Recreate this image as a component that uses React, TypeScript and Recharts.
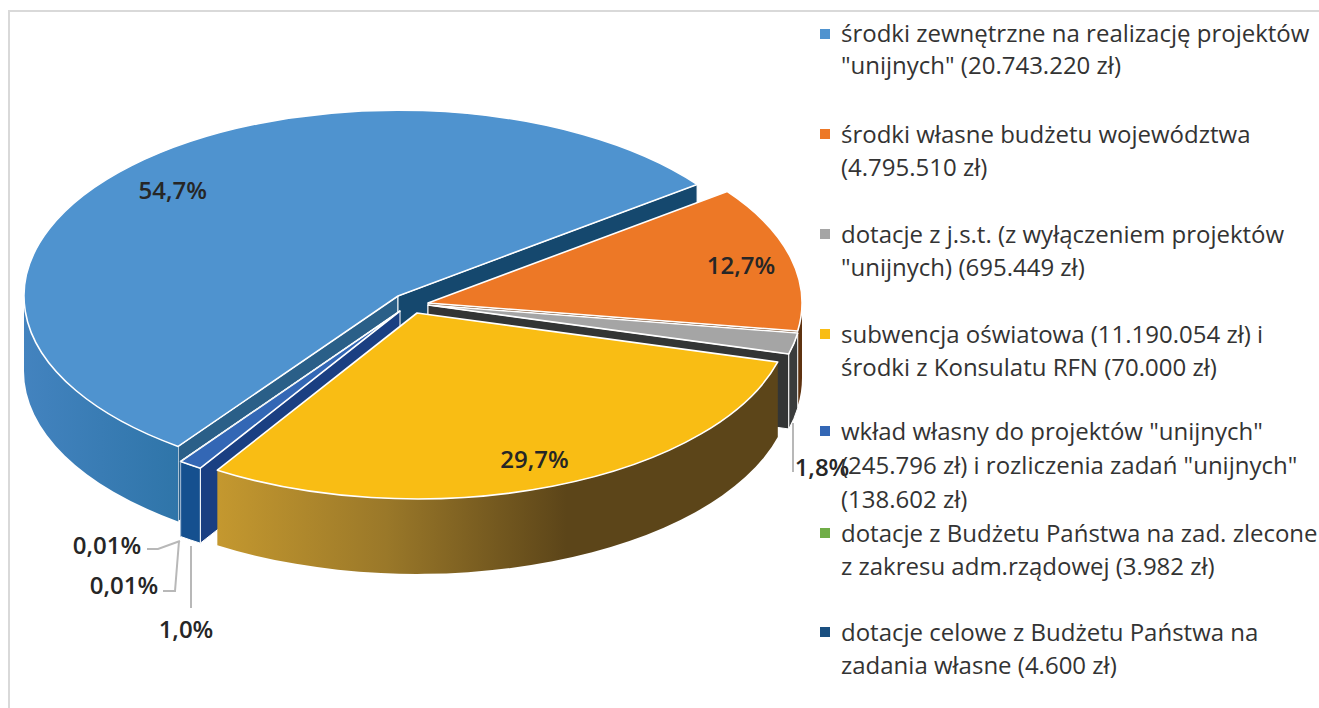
import React from "react";
import { PieChart, Pie, Legend } from "recharts";

// amounts taken from the legend texts, in zł
const names = [
  "środki zewnętrzne na realizację projektów\n\"unijnych\" (20.743.220 zł)",
  "środki własne budżetu województwa\n(4.795.510 zł)",
  "dotacje z j.s.t. (z wyłączeniem projektów\n\"unijnych) (695.449 zł)",
  "subwencja oświatowa (11.190.054 zł) i\nśrodki z Konsulatu RFN (70.000 zł)",
  "wkład własny do projektów \"unijnych\"\n(245.796 zł) i rozliczenia zadań \"unijnych\"\n(138.602 zł)",
  "dotacje z Budżetu Państwa na zad. zlecone\nz zakresu adm.rządowej (3.982 zł)",
  "dotacje celowe z Budżetu Państwa na\nzadania własne (4.600 zł)",
];
const values = [20743220, 4795510, 695449, 11260054, 384398, 3982, 4600];
const percentLabels = ["54,7%", "12,7%", "1,8%", "29,7%", "1,0%", "0,01%", "0,01%"];
const colors = ["#4f93cf", "#ed7826", "#a5a5a5", "#f9bd14", "#3367b5", "#70ad47", "#1a4f80"];

const data = names.map((name, i) => ({ name, value: values[i] }));

// look of the fake 3D pie
const CX = 398;
const CY = 296;
const RADIUS = 374;
const TILT = 0.497;
const DEPTH = 75;
const FONT = "'Open Sans', sans-serif";

const explode = [
  [0, 0],
  [30, 7],
  [30, 9],
  [19, 17],
  [2, 15],
  [2, 15],
  [2, 15],
];
const startWall = ["#2a5f88", "#6b3a12", "#333535", "#5c4519", "#1a3f82"];
const endWall = ["#15486e", "#6b3a12", "#333535", "#5c4519", "#1a3f82"];
const outerWall = ["url(#blueWall)", "#5e3210", "#3a3c3c", "url(#yellowWall)", "#15508f", "#15508f", "#15508f"];
const legendTops = [17, 117, 217, 317, 414, 516, 615];
const legendLineHeight = [32, 33, 33, 33, 34, 33, 33];
const labelNudge = [
  [4, 6],
  [1, 0],
  [0, 0],
  [1, -4],
];

// outside labels: text centre and leader line, chart coordinates
const outsideLabels: Record<number, { x: number; y: number; line: string }> = {
  2: { x: 822, y: 466, line: "793,423 793,472" },
  4: { x: 186, y: 628, line: "191,546 191,608" },
  5: { x: 107, y: 544, line: "147,549 158,549 180,541" },
  6: { x: 124, y: 584, line: "163,591 175,591 179,541" },
};

const rad = (a: number) => (a * Math.PI) / 180;
const point = (cx: number, cy: number, a: number, f = 1) => [
  cx + RADIUS * f * Math.cos(rad(a)),
  cy - RADIUS * TILT * f * Math.sin(rad(a)),
];

const Slice3D = (props: any, visible: (i: number) => boolean) => {
  const i = names.indexOf(props.name ?? props.payload?.name);
  if (!visible(i)) return null;
  const { cx, cy, startAngle, endAngle } = props;
  const x0 = cx + explode[i][0];
  const y0 = cy + explode[i][1];
  const rx = RADIUS;
  const ry = RADIUS * TILT;
  const mid = (startAngle + endAngle) / 2;
  const [sx, sy] = point(x0, y0, startAngle);
  const [ex, ey] = point(x0, y0, endAngle);
  const large = Math.abs(startAngle - endAngle) > 180 ? 1 : 0;

  // a radial wall only shows when the top face lies above its edge,
  // the two hairline slices have no wall worth drawing
  const faces = (a: number) => i < 5 && Math.sin(rad(mid - a)) / Math.cos(rad(a)) > 0;
  const wall = (x: number, y: number) =>
    `M${x0},${y0} L${x},${y} L${x},${y + DEPTH} L${x0},${y0 + DEPTH} Z`;

  const fronts: string[] = [];
  [
    [-180, 0],
    [180, 360],
  ].forEach(([lo, hi]) => {
    const a = Math.min(startAngle, hi);
    const b = Math.max(endAngle, lo);
    if (a <= b) return;
    const [ax, ay] = point(x0, y0, a);
    const [bx, by] = point(x0, y0, b);
    fronts.push(
      `M${ax},${ay} A${rx},${ry} 0 0 1 ${bx},${by} L${bx},${by + DEPTH} A${rx},${ry} 0 0 0 ${ax},${ay + DEPTH} Z`
    );
  });

  const lined = i === 2 || i === 4;
  return (
    <g>
      {faces(startAngle) && (
        <path d={wall(sx, sy)} fill={startWall[i]} stroke="#fff" strokeWidth={1} />
      )}
      {faces(endAngle) && (
        <path d={wall(ex, ey)} fill={endWall[i]} stroke="#fff" strokeWidth={1} />
      )}
      {fronts.map((d) => (
        <path
          key={d}
          d={d}
          fill={outerWall[i]}
          stroke={lined ? "#fff" : "none"}
          strokeWidth={1}
        />
      ))}
      <path
        d={`M${x0},${y0} L${sx},${sy} A${rx},${ry} 0 ${large} 1 ${ex},${ey} Z`}
        fill={colors[i]}
        stroke="#fff"
        strokeWidth={i > 4 ? 0.6 : 1.6}
        strokeLinejoin="round"
      />
    </g>
  );
};

// yellow has to lie over the walls of the small slices, so it gets its own layer
const backShape = (props: any) => Slice3D(props, (i) => i !== 3);
const frontShape = (props: any) => Slice3D(props, (i) => i === 3);

const renderLabel = (props: any) => {
  const i = names.indexOf(props.name ?? props.payload?.name);
  const textStyle = { fontFamily: FONT, fontSize: 24, fontWeight: 600, fill: "#262626" };
  const outside = outsideLabels[i];
  if (outside) {
    return (
      <g key={i}>
        <polyline points={outside.line} fill="none" stroke="#b8b8b8" strokeWidth={2} />
        <text x={outside.x} y={outside.y} textAnchor="middle" dominantBaseline="central" style={textStyle}>
          {percentLabels[i]}
        </text>
      </g>
    );
  }
  const [x, y] = point(props.cx + explode[i][0], props.cy + explode[i][1], props.midAngle, 0.86);
  return (
    <text
      key={i}
      x={x + labelNudge[i][0]}
      y={y + labelNudge[i][1]}
      textAnchor="middle"
      dominantBaseline="central"
      style={textStyle}
    >
      {percentLabels[i]}
    </text>
  );
};

const renderLegend = ({ payload }: any) => {
  const shown = names.filter((n) => (payload || []).some((entry: any) => entry.value === n));
  return (
    <div style={{ position: "relative", width: 1319, height: 708 }}>
      {shown.map((name) => {
        const i = names.indexOf(name);
        return (
          <div key={name}>
            <div
              style={{
                position: "absolute",
                left: 820,
                top: legendTops[i] + 12,
                width: 10,
                height: 10,
                background: colors[i],
              }}
            />
            <div
              style={{
                position: "absolute",
                left: 841,
                top: legendTops[i],
                whiteSpace: "pre",
                fontFamily: FONT,
                fontSize: 24,
                lineHeight: `${legendLineHeight[i]}px`,
                color: "#333",
              }}
            >
              {name}
            </div>
          </div>
        );
      })}
    </div>
  );
};

export default function App() {
  const pieProps = {
    data,
    dataKey: "value",
    nameKey: "name",
    cx: CX,
    cy: CY,
    outerRadius: RADIUS,
    startAngle: 234,
    endAngle: -126,
    isAnimationActive: false,
  };
  return (
    <div style={{ position: "absolute", left: 0, top: 0, width: 1319, height: 708, background: "#fff" }}>
      <div
        style={{
          position: "absolute",
          left: 8,
          top: 10,
          width: 1311,
          height: 698,
          borderLeft: "2px solid #d9d9d9",
          borderTop: "2px solid #d9d9d9",
          boxSizing: "border-box",
        }}
      />
      <PieChart
        width={1319}
        height={708}
        margin={{ top: 0, right: 0, bottom: 0, left: 0 }}
        style={{ position: "absolute", left: 0, top: 0 }}
      >
        <defs>
          <linearGradient id="blueWall" gradientUnits="userSpaceOnUse" x1={24} y1={0} x2={178} y2={0}>
            <stop offset="0" stopColor="#4383bf" />
            <stop offset="1" stopColor="#2f75a9" />
          </linearGradient>
          <linearGradient id="yellowWall" gradientUnits="userSpaceOnUse" x1={218} y1={0} x2={780} y2={0}>
            <stop offset="0" stopColor="#c4982f" />
            <stop offset="0.3" stopColor="#9a7829" />
            <stop offset="0.62" stopColor="#5c4519" />
            <stop offset="1" stopColor="#5c4519" />
          </linearGradient>
        </defs>
        <Pie {...pieProps} shape={backShape} stroke="none" fill="none" />
        <Pie
          {...pieProps}
          shape={frontShape}
          legendType="none"
          stroke="none"
          fill="none"
          label={renderLabel}
          labelLine={false}
        />
        <Legend
          content={renderLegend}
          wrapperStyle={{ position: "absolute", left: 0, top: 0, width: 1319, height: 708 }}
        />
      </PieChart>
    </div>
  );
}
